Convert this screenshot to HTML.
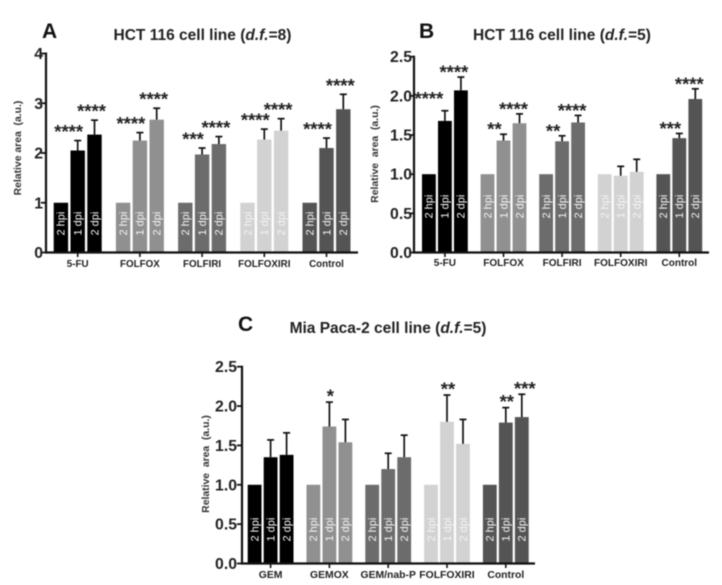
<!DOCTYPE html>
<html lang="en">
<head>
<meta charset="utf-8">
<title>Relative area bar charts</title>
<style>
html,body{margin:0;padding:0;background:#fff;}
body{width:722px;height:585px;overflow:hidden;}
svg{display:block;filter:blur(0.5px);}
text{font-family:"Liberation Sans",sans-serif;}
</style>
</head>
<body>
<svg id="figure" width="722" height="585" viewBox="0 0 722 585" xmlns="http://www.w3.org/2000/svg"></svg>
<script>
// ---------- Shared categories ----------
const timeLabels = ['2 hpi', '1 dpi', '2 dpi'];
const groupColors = ['#000000', '#909090', '#6c6c6c', '#d2d2d2', '#545454'];

// ---------- Panel A ----------
const groupsA = ['5-FU', 'FOLFOX', 'FOLFIRI', 'FOLFOXIRI', 'Control'];
const ticksA = ['0', '1', '2', '3', '4'];
const tickValuesA = [0, 1, 2, 3, 4];
const valuesA = [[1, 2.05, 2.37], [1, 2.25, 2.67], [1, 1.97, 2.18], [1, 2.27, 2.45], [1, 2.1, 2.88]];
const errorsA = [[0, 0.2, 0.29], [0, 0.16, 0.23], [0, 0.13, 0.15], [0, 0.21, 0.24], [0, 0.2, 0.3]];
const starsA = [['', '****', '****'], ['', '****', '****'], ['', '***', '****'], ['', '****', '****'], ['', '****', '****']];

// ---------- Panel B ----------
const groupsB = ['5-FU', 'FOLFOX', 'FOLFIRI', 'FOLFOXIRI', 'Control'];
const ticksB = ['0.0', '0.5', '1.0', '1.5', '2.0', '2.5'];
const tickValuesB = [0, 0.5, 1, 1.5, 2, 2.5];
const valuesB = [[1, 1.68, 2.07], [1, 1.43, 1.65], [1, 1.42, 1.66], [1, 0.98, 1.03], [1, 1.46, 1.96]];
const errorsB = [[0, 0.13, 0.17], [0, 0.08, 0.12], [0, 0.07, 0.09], [0, 0.12, 0.16], [0, 0.06, 0.13]];
const starsB = [['', '****', '****'], ['', '**', '****'], ['', '**', '****'], ['', '', ''], ['', '***', '****']];

// ---------- Panel C ----------
const groupsC = ['GEM', 'GEMOX', 'GEM/nab-P', 'FOLFOXIRI', 'Control'];
const ticksC = ['0.0', '0.5', '1.0', '1.5', '2.0', '2.5'];
const tickValuesC = [0, 0.5, 1, 1.5, 2, 2.5];
const valuesC = [[1, 1.35, 1.38], [1, 1.74, 1.54], [1, 1.2, 1.35], [1, 1.8, 1.52], [1, 1.79, 1.86]];
const errorsC = [[0, 0.22, 0.28], [0, 0.31, 0.29], [0, 0.2, 0.28], [0, 0.34, 0.31], [0, 0.19, 0.29]];
const starsC = [['', '', ''], ['', '*', ''], ['', '', ''], ['', '**', ''], ['', '**', '***']];

const svg = document.getElementById('figure');
const NS = 'http://www.w3.org/2000/svg';

function make(tag, attrs, parent) {
  const el = document.createElementNS(NS, tag);
  for (const k in attrs) el.setAttribute(k, attrs[k]);
  parent.appendChild(el);
  return el;
}

function drawPanel(cfg) {
  const g = make('g', {}, svg);
  
  

  const yScale = v => cfg.y0 - (v / cfg.yMax) * (cfg.y0 - cfg.yTop);
  const groupX = i => cfg.x0 + i * cfg.groupStep;
  const barX = (i, j) => groupX(i) + j * cfg.barStep;

  // panel letter
  const letter = make('text', {x: cfg.letterX, y: cfg.letterY, 'font-size': 21, 'font-weight': 700, fill: '#111'}, g);
  letter.textContent = cfg.id;
  
  

  // title
  const title = make('text', {x: cfg.titleX, y: cfg.titleY, 'font-size': cfg.titleSize, 'font-weight': 700, fill: '#222', 'text-anchor': 'middle'}, g);
  
  
  make('tspan', {}, title).textContent = cfg.title + ' (';
  make('tspan', {'font-style': 'italic'}, title).textContent = 'd.f.';
  make('tspan', {}, title).textContent = '=' + cfg.df + ')';

  // y-axis title
  const yTitle = make('text', {
    x: cfg.yTitleX, y: cfg.yTitleY, 'font-size': 10.4, 'font-weight': 700, fill: '#333', 'text-anchor': 'middle',
    transform: 'rotate(-90 ' + cfg.yTitleX + ' ' + cfg.yTitleY + ')'
  }, g);
  yTitle.textContent = cfg.yLabel;
  
  

  // bars
  cfg.values.forEach((row, i) => {
    row.forEach((v, j) => {
      const bar = make('rect', {
        x: barX(i, j), y: yScale(v), width: cfg.barW, height: cfg.y0 - yScale(v), fill: groupColors[i]
      }, g);
      
      

      const cx = barX(i, j) + cfg.barW / 2;
      const err = cfg.errors[i][j];
      if (err > 0) {
        const top = yScale(v + err);
        const stem = make('line', {x1: cx, x2: cx, y1: yScale(v), y2: top, stroke: '#111', 'stroke-width': 1.7}, g);
        
        
        const cap = make('line', {x1: cx - 3.5, x2: cx + 3.5, y1: top, y2: top, stroke: '#111', 'stroke-width': 1.7}, g);
        
        
      }

      const star = cfg.stars[i][j];
      if (star) {
        const starTop = yScale(v + err);
        const nudge = (cfg.starNudge && cfg.starNudge[i + '-' + j]) || [0, 0];
        const sx = cx + (j === 1 ? cfg.starDx1 : cfg.starDx2) + nudge[0];
        const sy = starTop - cfg.starGap + 10 + nudge[1];
        const st = make('text', {x: sx, y: sy, 'font-size': 18.5, 'font-weight': 700, fill: '#222', 'text-anchor': 'middle'}, g);
        st.textContent = star;
        
        
      }

      const ly = cfg.y0 - cfg.labelLift;
      const lab = make('text', {
        x: cx + 3.8, y: ly, 'font-size': 11, fill: '#f4f4f4',
        transform: 'rotate(-90 ' + (cx + 3.8) + ' ' + ly + ')'
      }, g);
      lab.textContent = timeLabels[j];
      
      
    });

    // category tick + label
    const gc = barX(i, 1) + cfg.barW / 2;
    const tk = make('line', {x1: gc, x2: gc, y1: cfg.y0, y2: cfg.y0 + 4.5, stroke: '#111', 'stroke-width': 1.6}, g);
    
    
    const gl = make('text', {x: gc, y: cfg.y0 + cfg.groupLabelDy, 'font-size': cfg.groupSize, 'font-weight': 700, fill: '#222', 'text-anchor': 'middle'}, g);
    gl.textContent = cfg.groups[i];
    
    
  });

  // axes
  const xAxis = make('line', {x1: cfg.axisX - 1, x2: cfg.axisEnd, y1: cfg.y0, y2: cfg.y0, stroke: '#111', 'stroke-width': 2.2}, g);
  
  
  const yAxis = make('line', {x1: cfg.axisX, x2: cfg.axisX, y1: cfg.yTop - 1, y2: cfg.y0 + 1, stroke: '#111', 'stroke-width': 2.2}, g);
  
  

  cfg.tickValues.forEach((v, k) => {
    const ty = yScale(v);
    const t = make('line', {x1: cfg.axisX - 5, x2: cfg.axisX, y1: ty, y2: ty, stroke: '#111', 'stroke-width': 1.8}, g);
    
    
    const tl = make('text', {x: cfg.axisX - cfg.tickLabelGap, y: ty + 5.5, 'font-size': 15.8, 'font-weight': 700, fill: '#222', 'text-anchor': 'end'}, g);
    tl.textContent = cfg.ticks[k];
    
    
  });
}

drawPanel({
  id: 'A', title: 'HCT 116 cell line', df: 8, titleSize: 15.5, titleX: 202.5, titleY: 40, letterX: 42, letterY: 38,
  yLabel: 'Relative area\u00a0 (a.u.)', yTitleX: 21, yTitleY: 148,
  groups: groupsA, ticks: ticksA, tickValues: tickValuesA, values: valuesA, errors: errorsA, stars: starsA,
  y0: 252.5, yTop: 53.5, yMax: 4, axisX: 46, axisEnd: 358, x0: 53.7, groupStep: 62.2, barStep: 16.8, barW: 14.4,
  starDx1: -9, starDx2: -3, starGap: 12.5, labelLift: 17, groupLabelDy: 14.5, groupSize: 9.8, tickLabelGap: 3
});
drawPanel({
  id: 'B', title: 'HCT 116 cell line', df: 5, titleSize: 15.5, titleX: 562, titleY: 40, letterX: 419, letterY: 38,
  yLabel: 'Relative\u00a0 area\u00a0 (a.u.)', yTitleX: 378, yTitleY: 154,
  groups: groupsB, ticks: ticksB, tickValues: tickValuesB, values: valuesB, errors: errorsB, stars: starsB,
  y0: 252.5, yTop: 56.7, yMax: 2.5, axisX: 414, axisEnd: 709, x0: 422, groupStep: 58.6, barStep: 16, barW: 13.8,
  starDx1: -9, starDx2: -6, starGap: 8.5, labelLift: 34, groupLabelDy: 13.5, groupSize: 10, tickLabelGap: 2,
  starNudge: {'0-1': [-7, -7], '0-2': [-1, 0]}
});
drawPanel({
  id: 'C', title: 'Mia Paca-2 cell line', df: 5, titleSize: 15.5, titleX: 388, titleY: 333, letterX: 238, letterY: 331,
  yLabel: 'Relative\u00a0 area\u00a0 (a.u.)', yTitleX: 209, yTitleY: 464,
  groups: groupsC, ticks: ticksC, tickValues: tickValuesC, values: valuesC, errors: errorsC, stars: starsC,
  y0: 563.5, yTop: 366.7, yMax: 2.5, axisX: 242, axisEnd: 535, x0: 247.7, groupStep: 58.8, barStep: 16, barW: 13.8,
  starDx1: 1, starDx2: 3, starGap: 9.5, labelLift: 22, groupLabelDy: 14.5, groupSize: 10.4, tickLabelGap: 5
});
</script>
</body>
</html>
